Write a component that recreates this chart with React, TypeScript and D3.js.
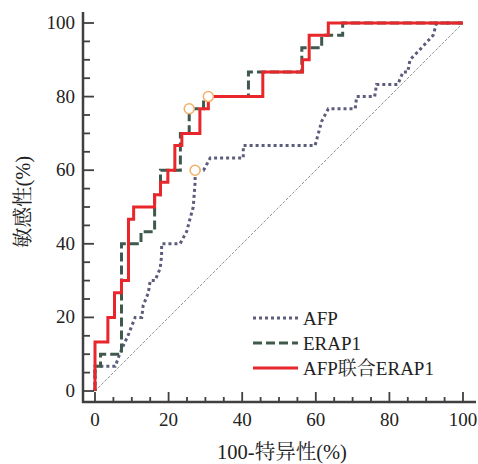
import React from "react";
import * as d3 from "d3";

// ROC curves (x = 100-specificity, y = sensitivity, in %)
const afpX = [0, 0, 2.7, 5.5, 6.7, 8.1, 8.8, 10.9, 12.7, 13.1, 14.5, 15, 16.3, 17.7, 18.1, 18.1, 23.1, 24.9, 25.8, 26.7, 27.2, 27.2, 29.5, 31.3, 40.3, 40.3, 59.8, 61.6, 63.4, 70.7, 71.1, 76, 76.5, 82.3, 83.7, 85, 85.6, 88.8, 91.9, 92.8, 100];
const afpY = [0, 6.7, 6.7, 6.7, 10, 13.3, 14.6, 20, 20, 23.3, 26.7, 30, 30, 33.3, 36.7, 40, 40, 43.3, 46.7, 50, 56.7, 60, 60, 63.3, 63.3, 66.7, 66.7, 73.3, 76.7, 76.7, 80, 80, 83.3, 83.3, 86.7, 86.7, 90, 93.3, 96.7, 100, 100];

const erapX = [0, 0, 1.5, 7.2, 12.5, 16.2, 17.8, 23.2, 25.6, 29.5, 41.7, 56.2, 61.6, 67.3, 100];
const erapY = [0, 6.7, 10, 40, 43.3, 53.3, 60, 70, 76.7, 80, 86.7, 93.3, 96.7, 100, 100];

const combX = [0, 0, 3.5, 5.3, 7.2, 9.1, 10.5, 16.2, 17.8, 19.8, 21.7, 23.6, 28.5, 30.8, 45.6, 56.4, 58.2, 63.4, 100];
const combY = [0, 13.3, 20, 26.7, 30, 46.7, 50, 53.3, 56.7, 60, 66.7, 70, 76.7, 80, 86.7, 90, 96.7, 100, 100];

// cut-off markers (orange circles)
const cutX = [27.2, 25.6, 30.8];
const cutY = [60, 76.7, 80];

const tickLabels = [0, 20, 40, 60, 80, 100];
const seriesNames = ["AFP", "ERAP1", "AFP联合ERAP1"];

const W = 478;
const H = 464;
const serif = "'Liberation Serif', 'Times New Roman', 'Noto Serif CJK SC', 'Noto Sans CJK SC', serif";

const App = () => {
  const x = d3.scaleLinear().domain([0, 100]).range([95, 463]);
  const y = d3.scaleLinear().domain([0, 100]).range([391, 23]);

  const axisX = 83;
  const axisY = 402;

  const stepLine = d3
    .line<[number, number]>()
    .x((d) => x(d[0]))
    .y((d) => y(d[1]))
    .curve(d3.curveStepAfter);

  const plainLine = d3
    .line<[number, number]>()
    .x((d) => x(d[0]))
    .y((d) => y(d[1]));

  const zip = (a: number[], b: number[]) => a.map((v, i) => [v, b[i]] as [number, number]);

  const minor = d3.range(0, 101, 5);

  const styles = [
    { stroke: "#5c5c7c", dash: "3,3", width: 3 },
    { stroke: "#3f5a4d", dash: "9,4", width: 3 },
    { stroke: "#e8262b", dash: null, width: 3 },
  ];

  return (
    <svg width={W} height={H} style={{ position: "absolute", left: 0, top: 0, background: "#fff" }}>
      {/* diagonal reference */}
      <line
        x1={x(0)}
        y1={y(0)}
        x2={x(100)}
        y2={y(100)}
        stroke="#8a8a8a"
        strokeWidth={0.9}
        strokeDasharray="3,1.5"
      />

      <path d={plainLine(zip(afpX, afpY)) || ""} fill="none" stroke={styles[0].stroke} strokeWidth={3} strokeDasharray="3,3" />
      <path d={stepLine(zip(erapX, erapY)) || ""} fill="none" stroke={styles[1].stroke} strokeWidth={3} strokeDasharray="9,4" />
      <path d={stepLine(zip(combX, combY)) || ""} fill="none" stroke={styles[2].stroke} strokeWidth={3} />

      {cutX.map((cx, i) => (
        <circle key={i} cx={x(cx)} cy={y(cutY[i])} r={5} fill="#fff" stroke="#f5b066" strokeWidth={1.5} />
      ))}

      {/* axes */}
      <line x1={axisX} y1={12} x2={axisX} y2={axisY + 1} stroke="#404040" strokeWidth={2.5} />
      <line x1={axisX - 1} y1={axisY} x2={476} y2={axisY} stroke="#404040" strokeWidth={2.5} />

      {minor.map((t) => (
        <line
          key={"yt" + t}
          x1={axisX}
          x2={axisX + (t % 20 === 0 ? 11 : 7)}
          y1={y(t)}
          y2={y(t)}
          stroke="#404040"
          strokeWidth={1.8}
        />
      ))}
      {minor.map((t) => (
        <line
          key={"xt" + t}
          x1={x(t)}
          x2={x(t)}
          y1={axisY}
          y2={axisY - (t % 20 === 0 ? 10 : 5)}
          stroke="#404040"
          strokeWidth={1.8}
        />
      ))}

      {tickLabels.map((t) => (
        <text key={"yl" + t} x={75} y={y(t) + 6} textAnchor="end" fontFamily={serif} fontSize={19} fill="#222">
          {t}
        </text>
      ))}
      {tickLabels.map((t) => (
        <text key={"xl" + t} x={x(t)} y={426} textAnchor="middle" fontFamily={serif} fontSize={19} fill="#222">
          {t}
        </text>
      ))}

      <text x={282} y={459} textAnchor="middle" fontFamily={serif} fontSize={20.5} fill="#222">
        100-特异性(%)
      </text>
      <text
        transform={`translate(30, 202) rotate(-90)`}
        textAnchor="middle"
        fontFamily={serif}
        fontSize={20.5}
        fill="#222"
      >
        敏感性(%)
      </text>

      {/* legend */}
      {seriesNames.map((name, i) => {
        const ly = 318 + i * 25;
        const s = styles[i];
        return (
          <g key={name}>
            <line
              x1={253}
              x2={298}
              y1={ly}
              y2={ly}
              stroke={s.stroke}
              strokeWidth={s.width}
              strokeDasharray={s.dash || undefined}
            />
            <text x={303} y={ly + 7} fontFamily={serif} fontSize={19} fill="#222">
              {name}
            </text>
          </g>
        );
      })}
    </svg>
  );
};

export default App;
